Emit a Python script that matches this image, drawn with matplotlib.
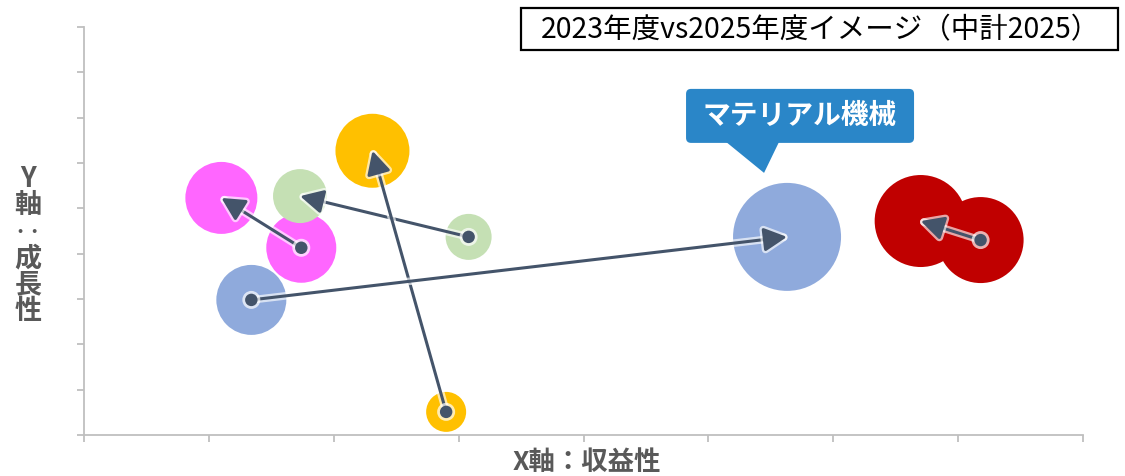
import numpy as np
import matplotlib
matplotlib.use("Agg")
import matplotlib.pyplot as plt
import matplotlib.patheffects as pe
import matplotlib.transforms as mtransforms
from matplotlib.patches import FancyBboxPatch, Polygon, Rectangle

plt.rcParams['font.family'] = ['Noto Sans CJK JP', 'DejaVu Sans']

# segments (same order in every list)
segments = ['ピンク', 'グリーン', 'イエロー', 'マテリアル機械', 'レッド']
colors = ['#FF66FF', '#C5E0B4', '#FFC000', '#8FAADC', '#C00000']

# 2023 (start of arrow)
x_2023 = [1.74, 3.08, 2.90, 1.34, 7.18]
y_2023 = [4.13, 4.37, 0.51, 2.98, 4.30]
size_2023 = [35, 23, 20, 35, 43]

# 2025 (end of arrow)
x_2025 = [1.10, 1.73, 2.31, 5.63, 6.70]
y_2025 = [5.23, 5.27, 6.27, 4.37, 4.72]
size_2025 = [36, 27, 37, 54, 46]

title = '2023年度vs2025年度イメージ（中計2025）'
callout = 'マテリアル機械'
xlabel = 'X軸：収益性'
# vertical label; the colon shows as two dots side by side when set vertically
ylabel = ['Y', '軸', '・・', '成', '長', '性']

W, H = 1125, 476
fig = plt.figure(figsize=(W / 100, H / 100), dpi=100)
ax = fig.add_axes([84 / W, 41 / H, 999 / W, 408 / H])

def area(v):
    return (np.array(v) * 1.44) ** 2

ax.scatter(x_2023, y_2023, s=area(size_2023), c=colors, linewidths=0, zorder=2)
ax.scatter(x_2025, y_2025, s=area(size_2025), c=colors, linewidths=0, zorder=3)

arrow_col = '#44546A'
glow = [pe.Stroke(linewidth=5.5, foreground='white', alpha=0.65), pe.Normal()]
for i in range(len(segments)):
    ax.annotate('', xy=(x_2025[i], y_2025[i]), xytext=(x_2023[i], y_2023[i]),
                arrowprops=dict(arrowstyle='-|>,head_length=0.7,head_width=0.36',
                                mutation_scale=20, lw=2.2, color=arrow_col,
                                shrinkA=0, shrinkB=0, path_effects=glow),
                zorder=4)
dots = ax.scatter(x_2023, y_2023, s=80, c=arrow_col, linewidths=0, zorder=5)
dots.set_path_effects([pe.withStroke(linewidth=4, foreground='white', alpha=0.7)])

ax.set_xlim(0, 8)
ax.set_ylim(0, 9)
ax.set_xticks(range(9))
ax.set_yticks(range(10))
ax.set_xticklabels([])
ax.set_yticklabels([])
for s in ['top', 'right']:
    ax.spines[s].set_visible(False)
for s in ['left', 'bottom']:
    ax.spines[s].set_color('#BFBFBF')
    ax.spines[s].set_linewidth(1.3)
ax.tick_params(direction='out', length=5, width=1.3, color='#BFBFBF')

# callout for the blue bubble (offsets in inches from the 2025 point)
i = segments.index('マテリアル機械')
off = fig.dpi_scale_trans + mtransforms.ScaledTranslation(x_2025[i], y_2025[i], ax.transData)
call_col = '#2A86C8'
box = FancyBboxPatch((-1.01 + 0.05, 0.94 + 0.05), 2.28 - 0.1, 0.54 - 0.1,
                     boxstyle='round,pad=0.05', fc=call_col, ec='none',
                     transform=off, zorder=6, clip_on=False)
ax.add_patch(box)
ax.add_patch(Polygon([(-0.61, 0.95), (-0.08, 0.95), (-0.23, 0.64)], closed=True,
                     fc=call_col, ec='none', transform=off, zorder=6, clip_on=False))
ax.text(0.13, 1.21, callout, transform=off, ha='center', va='center',
        fontsize=20, fontweight='bold', color='white', zorder=7)

# title box
fig.patches.append(Rectangle((521 / W, 1 - 50 / H), 597 / W, 42 / H, fc='white',
                             ec='black', lw=1.6, transform=fig.transFigure))
fig.text(820 / W, 1 - 30 / H, title, ha='center', va='center', fontsize=20.5,
         color='black')

# axis labels
fig.text(587 / W, 1 - 463 / H, xlabel, ha='center', va='center', fontsize=19,
         fontweight='bold', color='#595959')
for k, ch in enumerate(ylabel):
    yy = 179 + k * 26.4
    fs = 19.5
    if ch == '・・':
        fs = 11
    fig.text(28 / W, 1 - yy / H, ch, ha='center', va='center',
             fontsize=fs, fontweight='bold', color='#595959')

fig.savefig('out.png', dpi=100)
